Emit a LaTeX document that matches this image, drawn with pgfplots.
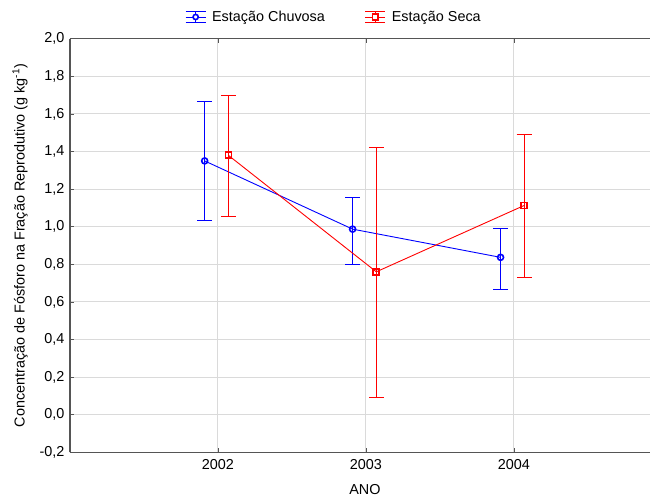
\documentclass[border=0pt]{standalone}
\usepackage{fontspec}
\setmainfont{Liberation Sans}
\usepackage{pgfplots}
\pgfplotsset{compat=1.18}
\newcommand\myfont{\fontsize{14.4bp}{16bp}\selectfont}
\definecolor{gridgray}{RGB}{218,218,218}
\definecolor{axgray}{RGB}{85,85,85}
\definecolor{cblue}{RGB}{0,0,255}
\definecolor{cred}{RGB}{255,0,0}
\begin{document}
\begin{tikzpicture}
\begin{axis}[
  name=ax,
  scale only axis,
  width=580bp, height=413.6bp,
  xmin=2001, xmax=2004.92,
  ymin=-0.2, ymax=2.0,
  axis y line*=left,
  axis line style={axgray, line width=1.1bp},
  xtick={2002,2003,2004},
  xticklabels={2002,2003,2004},
  ytick={-0.2,0,0.2,0.4,0.6,0.8,1.0,1.2,1.4,1.6,1.8,2.0},
  yticklabels={{-0,2},{0,0},{0,2},{0,4},{0,6},{0,8},{1,0},{1,2},{1,4},{1,6},{1,8},{2,0}},
  tick style={axgray, line width=0.6bp},
  major tick length=4bp,
  tick align=inside,
  ymajorgrids, xmajorgrids,
  major grid style={gridgray, line width=1bp},
  tick label style={font=\myfont, black},
  xticklabel style={yshift=-4bp},
  yticklabel style={xshift=-2bp},
  label style={font=\myfont},
  xlabel={ANO},
  xlabel style={at={(axis description cs:0.5086,-0.0912)}, anchor=center},
  ylabel={Concentração de Fósforo na Fração Reprodutivo (g kg\textsuperscript{-1})},
  ylabel style={at={(axis description cs:-0.0862,0.5)}, anchor=center},
  legend style={font=\myfont, draw=none, fill=none, inner sep=0pt,
    at={(axis description cs:0.1983,1)}, anchor=west, yshift=21.7bp,
    legend columns=2,
    nodes={inner sep=0pt},
    /tikz/every odd column/.style={column sep=6bp},
    /tikz/every even column/.style={column sep=40bp}},
  legend cell align=left,
]
\addplot[cblue, line width=0.9bp, mark=o, mark size=3bp,
  mark options={line width=1.6bp, solid},
  legend image code/.code={
    \draw[cblue, line width=0.9bp] (0bp,5.2bp) -- (20bp,5.2bp);
    \draw[cblue, line width=0.9bp] (0bp,-5.2bp) -- (20bp,-5.2bp);
    \draw[cblue, line width=0.9bp] (0bp,0bp) -- (20bp,0bp);
    \draw[cblue, line width=0.9bp] (10bp,-5.2bp) -- (10bp,5.2bp);
    \draw[cblue, line width=1.6bp, fill=white] (10bp,0bp) circle (2.6bp);
  },
  error bars/.cd, y dir=both, y explicit,
  error bar style={line width=0.9bp, cblue},
  error mark options={rotate=90, mark size=7.5bp, line width=0.9bp, cblue},
  ] coordinates {
  (2001.91,1.350) += (0,0.317) -= (0,0.317)
  (2002.91,0.987) += (0,0.170) -= (0,0.187)
  (2003.91,0.837) += (0,0.153) -= (0,0.172)
};
\addlegendentry{Estação Chuvosa}
\addplot[cred, line width=0.9bp, mark=square, mark size=3bp,
  mark options={line width=1.6bp, solid},
  legend image code/.code={
    \draw[cred, line width=0.9bp] (0bp,5.2bp) -- (20bp,5.2bp);
    \draw[cred, line width=0.9bp] (0bp,-5.2bp) -- (20bp,-5.2bp);
    \draw[cred, line width=0.9bp] (0bp,0bp) -- (20bp,0bp);
    \draw[cred, line width=0.9bp] (10bp,-5.2bp) -- (10bp,5.2bp);
    \draw[cred, line width=1.6bp, fill=white] (7.2bp,-2.8bp) rectangle (12.8bp,2.8bp);
  },
  error bars/.cd, y dir=both, y explicit,
  error bar style={line width=0.9bp, cred},
  error mark options={rotate=90, mark size=7.5bp, line width=0.9bp, cred},
  ] coordinates {
  (2002.07,1.380) += (0,0.320) -= (0,0.326)
  (2003.07,0.760) += (0,0.660) -= (0,0.668)
  (2004.07,1.113) += (0,0.377) -= (0,0.384)
};
\addlegendentry{Estação Seca}
\end{axis}
\pgfresetboundingbox
\path[use as bounding box] ([xshift=-70bp,yshift=-45.7bp]ax.south west) rectangle ([yshift=38.7bp]ax.north east);
\end{tikzpicture}
\end{document}
